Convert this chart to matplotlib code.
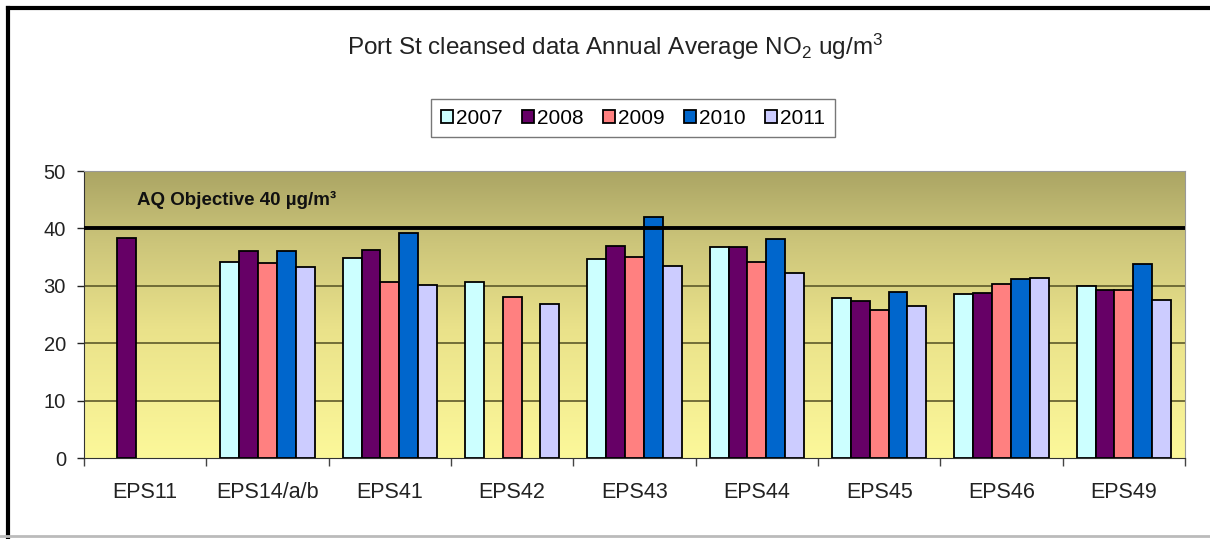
import numpy as np
import matplotlib
matplotlib.use('Agg')
import matplotlib.pyplot as plt
from matplotlib.colors import LinearSegmentedColormap
from matplotlib.lines import Line2D

plt.rcParams['font.family'] = ['Liberation Sans', 'DejaVu Sans']
plt.rcParams['mathtext.fontset'] = 'custom'
plt.rcParams['mathtext.rm'] = 'Liberation Sans'
plt.rcParams['mathtext.it'] = 'Liberation Sans:italic'
plt.rcParams['mathtext.bf'] = 'Liberation Sans:bold'

# Monitoring sites and annual mean NO2 (ug/m3); None = no data that year
sites = ['EPS11', 'EPS14/a/b', 'EPS41', 'EPS42', 'EPS43', 'EPS44', 'EPS45', 'EPS46', 'EPS49']
years = ['2007', '2008', '2009', '2010', '2011']
no2_2007 = [None, 34.2, 34.8, 30.7, 34.7, 36.8, 27.9, 28.5, 29.9]
no2_2008 = [38.4, 36.1, 36.3, None, 36.9, 36.8, 27.3, 28.8, 29.2]
no2_2009 = [None, 33.9, 30.7, 28.0, 35.1, 34.1, 25.8, 30.4, 29.3]
no2_2010 = [None, 36.1, 39.2, None, 41.9, 38.1, 29.0, 31.1, 33.8]
no2_2011 = [None, 33.3, 30.2, 26.9, 33.4, 32.2, 26.5, 31.4, 27.5]
series = [no2_2007, no2_2008, no2_2009, no2_2010, no2_2011]
colors = ['#CCFFFF', '#660066', '#FF8080', '#0066CC', '#CCCCFF']
objective = 40

fig = plt.figure(figsize=(12.1, 5.39), dpi=100)
ax = fig.add_axes([84 / 1210, (539 - 458) / 539, (1185 - 84) / 1210, (458 - 171) / 539])

# yellow-to-olive background gradient
cmap = LinearSegmentedColormap.from_list(
    'bg', [(0.0, '#FCF89A'), (0.45, '#EAE28A'), (0.75, '#CCC57A'), (1.0, '#ABA564')])
grad = np.linspace(0, 1, 256).reshape(-1, 1)
ax.imshow(grad, cmap=cmap, aspect='auto', origin='lower',
          extent=[-0.5, len(sites) - 0.5, 0, 50], zorder=0)

n = len(series)
width = 1 / (n + 1.5)
x = np.arange(len(sites))
for i, (vals, c, yr) in enumerate(zip(series, colors, years)):
    xs = [xi + (i - (n - 1) / 2) * width for xi, v in zip(x, vals) if v is not None]
    hs = [v for v in vals if v is not None]
    ax.bar(xs, hs, width=width, color=c, edgecolor='black', linewidth=1.3,
           label=yr, zorder=3)

for g in (10, 20, 30):
    ax.axhline(g, color='#5E5A2A', linewidth=1.2, zorder=1)
ax.axhline(objective, color='black', linewidth=2.8, zorder=4)
ax.text(-0.065, 45, 'AQ Objective 40 \u00b5g/m\u00b3', fontsize=13.5, fontweight='bold',
        va='center', ha='left', color='#111111', zorder=5)

ax.set_xlim(-0.5, len(sites) - 0.5)
ax.set_ylim(0, 50)
ax.set_yticks([0, 10, 20, 30, 40, 50])
ax.tick_params(axis='y', labelsize=14.5, length=5, width=1, colors='#222222', pad=8)
ax.set_xticks(x)
ax.set_xticklabels(sites, fontsize=15.5, color='#222222')
ax.tick_params(axis='x', length=0, pad=17)
ax.set_xticks(np.arange(len(sites) + 1) - 0.5, minor=True)
ax.tick_params(axis='x', which='minor', length=6, width=1, color='#444444')
ax.spines['left'].set_color('#333333')
ax.spines['bottom'].set_color('#333333')
ax.spines['top'].set_color('#999999')
ax.spines['right'].set_color('#999999')

fig.text(615 / 1210, 1 - 47 / 539, r'Port St cleansed data Annual Average NO$_2$ ug/m$^3$',
         fontsize=17.5, ha='center', va='center', color='#222222')

leg = fig.legend(loc='center', bbox_to_anchor=(633 / 1210, 1 - 118 / 539), ncol=5,
                 fontsize=15, frameon=True, fancybox=False, edgecolor='#555555',
                 handlelength=0.6, handleheight=0.6, handletextpad=0.15,
                 columnspacing=0.9, borderpad=0.45)
leg.get_frame().set_linewidth(1.0)

# outer chart border
fig.add_artist(Line2D([8 / 1210, 8 / 1210], [0, 1 - 8 / 539], transform=fig.transFigure,
                      color='black', linewidth=3))
fig.add_artist(Line2D([8 / 1210, 1], [1 - 8 / 539, 1 - 8 / 539], transform=fig.transFigure,
                      color='black', linewidth=3))
fig.add_artist(Line2D([0, 1], [3 / 539, 3 / 539], transform=fig.transFigure,
                      color='#BBBBBB', linewidth=2))

fig.savefig('out.png', dpi=100)
